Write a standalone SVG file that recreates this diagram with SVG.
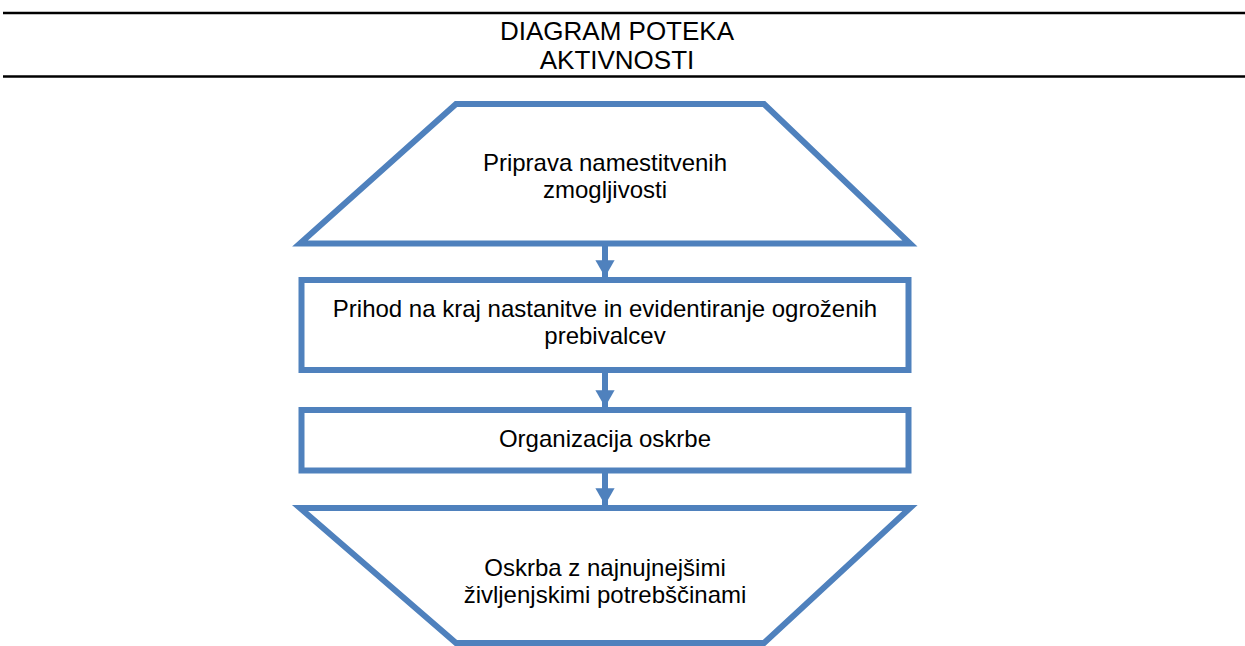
<svg xmlns="http://www.w3.org/2000/svg" width="1245" height="646" viewBox="0 0 1245 646">
<style>
.t{font-family:"Liberation Sans",Arial,sans-serif;font-size:24px;fill:#000;text-anchor:middle}
.h{font-size:26px}
.n{fill:#fff;stroke:#4F81BD;stroke-width:6;stroke-linejoin:miter}
.c{stroke:#4F81BD;stroke-width:6;fill:none}
.hl{stroke:#000;stroke-width:2.5}
</style>
<defs>
<marker id="ah" markerWidth="4" markerHeight="4" refX="2.8" refY="2" orient="auto" markerUnits="strokeWidth" viewBox="0 0 4 4">
<path d="M0,0.4 L2.8,2 L0,3.6 Z" fill="#4F81BD"/>
</marker>
</defs>
<g id="header">
<line class="hl" x1="3" y1="13" x2="1245" y2="13"/>
<line class="hl" x1="3" y1="76.5" x2="1245" y2="76.5"/>
<text class="t h" x="617" y="40">DIAGRAM POTEKA</text>
<text class="t h" x="617" y="69">AKTIVNOSTI</text>
</g>
<g id="connectors">
<line class="c" x1="605" y1="246" x2="605" y2="277" marker-end="url(#ah)"/>
<line class="c" x1="605" y1="373" x2="605" y2="407" marker-end="url(#ah)"/>
<line class="c" x1="605" y1="473" x2="605" y2="505" marker-end="url(#ah)"/>
</g>
<g id="n1">
<polygon class="n" points="456,104 764,104 910,243.5 300,243.5"/>
<text class="t" x="605" y="171">Priprava namestitvenih</text>
<text class="t" x="605" y="198">zmogljivosti</text>
</g>
<g id="n2">
<rect class="n" x="301.5" y="280" width="607" height="90"/>
<text class="t" x="605" y="317">Prihod na kraj nastanitve in evidentiranje ogroženih</text>
<text class="t" x="605" y="344">prebivalcev</text>
</g>
<g id="n3">
<rect class="n" x="301.5" y="410" width="607" height="60.5"/>
<text class="t" x="605" y="447">Organizacija oskrbe</text>
</g>
<g id="n4">
<polygon class="n" points="300,508 910,508 764,643 456,643"/>
<text class="t" x="605" y="576">Oskrba z najnujnejšimi</text>
<text class="t" x="605" y="603">življenjskimi potrebščinami</text>
</g>
</svg>
